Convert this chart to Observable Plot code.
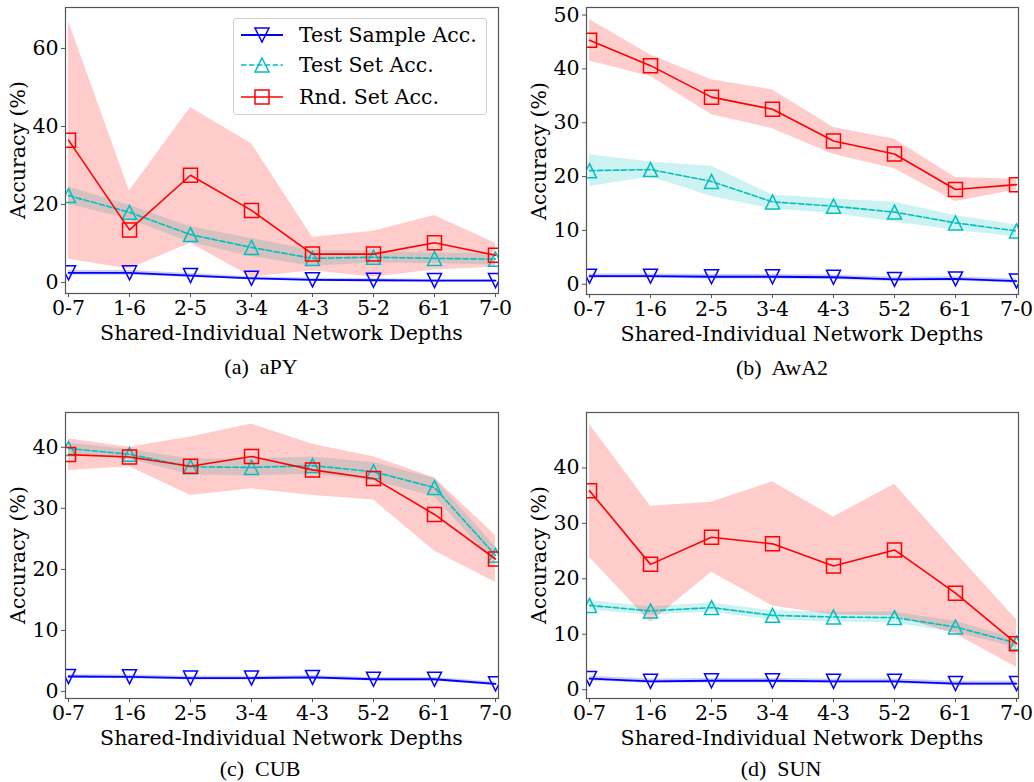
<!DOCTYPE html>
<html><head><meta charset="utf-8">
<script src="https://cdn.jsdelivr.net/npm/d3@7"></script>
<script src="https://cdn.jsdelivr.net/npm/@observablehq/plot@0.6"></script>
<style>
body{margin:0;background:#fff;}
#fig{position:relative;width:1034px;height:782px;overflow:hidden;font-family:"DejaVu Serif",serif;color:#000;}
.panel{position:absolute;}
.lbl{position:absolute;font-size:20.5px;white-space:pre;transform:translate(-50%,-50%);line-height:1;}
.ylbl{transform:translate(-50%,-50%) rotate(-90deg);}
.cap{position:absolute;font-family:"Liberation Serif",serif;font-size:22px;white-space:pre;transform:translate(-50%,-50%);line-height:1;}
</style></head><body><div id="fig"></div>
<script>
// ---- data ----
const depths = ["0-7","1-6","2-5","3-4","4-3","5-2","6-1","7-0"];
const seriesNames = ["Test Sample Acc.","Test Set Acc.","Rnd. Set Acc."];

// aPY
const apySample    = [2.5, 2.5, 1.8, 1.1, 0.7, 0.6, 0.5, 0.5];
const apySampleStd = [0.6, 0.6, 0.5, 0.4, 0.4, 0.4, 0.3, 0.3];
const apySet       = [22.3, 18.0, 12.3, 9.0, 6.2, 6.5, 6.2, 6.0];
const apySetStd    = [2.2, 1.8, 2.0, 2.3, 2.0, 1.5, 1.3, 1.5];
const apyRnd       = [36.5, 13.5, 27.5, 18.5, 7.3, 7.3, 10.2, 7.0];
const apyRndStd    = [30.5, 10.0, 17.4, 17.1, 4.3, 5.85, 7.0, 3.1];

// AwA2
const awaSample    = [1.5, 1.5, 1.4, 1.4, 1.3, 0.9, 1.0, 0.6];
const awaSampleStd = [0.4, 0.4, 0.4, 0.4, 0.4, 0.4, 0.4, 0.4];
const awaSet       = [21.1, 21.3, 19.1, 15.3, 14.5, 13.4, 11.4, 9.9];
const awaSetStd    = [2.95, 1.4, 2.8, 1.3, 1.35, 1.85, 1.35, 1.1];
const awaRnd       = [45.3, 40.6, 34.75, 32.5, 26.6, 24.2, 17.6, 18.5];
const awaRndStd    = [3.85, 2.0, 3.25, 3.6, 2.5, 2.75, 2.25, 1.0];

// CUB
const cubSample    = [2.45, 2.4, 2.2, 2.2, 2.3, 2.0, 2.0, 1.25];
const cubSampleStd = [0.3, 0.3, 0.3, 0.3, 0.3, 0.3, 0.3, 0.3];
const cubSet       = [39.8, 38.85, 36.8, 36.7, 37.0, 36.0, 33.4, 22.3];
const cubSetStd    = [0.9, 0.8, 1.3, 1.4, 1.4, 1.5, 1.5, 1.4];
const cubRnd       = [38.8, 38.4, 36.9, 38.5, 36.3, 34.9, 29.0, 21.7];
const cubRndStd    = [2.6, 1.6, 4.8, 5.3, 4.2, 3.55, 6.0, 3.85];

// SUN
const sunSample    = [2.0, 1.5, 1.6, 1.6, 1.5, 1.5, 1.1, 1.1];
const sunSampleStd = [0.4, 0.4, 0.4, 0.4, 0.4, 0.4, 0.4, 0.4];
const sunSet       = [15.2, 14.2, 14.8, 13.4, 13.1, 13.0, 11.3, 8.4];
const sunSetStd    = [0.9, 0.75, 0.85, 0.85, 0.9, 1.0, 1.05, 0.75];
const sunRnd       = [35.9, 22.6, 27.5, 26.3, 22.3, 25.2, 17.4, 8.3];
const sunRndStd    = [12.0, 10.5, 6.3, 11.2, 8.85, 11.85, 7.35, 4.3];

const yTicksA = [0, 20, 40, 60];
const yTicksB = [0, 10, 20, 30, 40, 50];
const yTicksC = [0, 10, 20, 30, 40];
const yTicksD = [0, 10, 20, 30, 40];

const xLabel = "Shared-Individual Network Depths";
const yLabel = "Accuracy (%)";

// ---- styling / layout ----
const COLORS = ["#0000ff", "#00bfbf", "#ff0000"];
const sym = (kind) => ({draw(ctx, size) {
  const r = Math.sqrt(size / Math.PI);
  if (kind === "sq") { ctx.rect(-r, -r, 2*r, 2*r); }
  else if (kind === "up") { ctx.moveTo(0, -r); ctx.lineTo(r, r); ctx.lineTo(-r, r); ctx.closePath(); }
  else { ctx.moveTo(0, r); ctx.lineTo(r, -r); ctx.lineTo(-r, -r); ctx.closePath(); }
}});
const SYMS = [sym("down"), sym("up"), sym("sq")];
const DASH = [null, "5.5,2.4", null];
const LW = [1.8, 1.6, 1.6];
const FS = 20.5;

const panels = [
  {cap:"(a)  aPY",  col:0, row:0, fL:65,  fR:498,  fT:7,   fB:293, y:[-2.8, 70.5], ticks:yTicksA, capX:261, legend:true,
   s:[[apySample,apySampleStd],[apySet,apySetStd],[apyRnd,apyRndStd]]},
  {cap:"(b)  AwA2", col:1, row:0, fL:586, fR:1018, fT:7,   fB:294, y:[-1.9, 51.4], ticks:yTicksB, capX:782,
   s:[[awaSample,awaSampleStd],[awaSet,awaSetStd],[awaRnd,awaRndStd]]},
  {cap:"(c)  CUB",  col:0, row:1, fL:65,  fR:498,  fT:412, fB:698, y:[-1.15, 45.7], ticks:yTicksC, capX:260,
   s:[[cubSample,cubSampleStd],[cubSet,cubSetStd],[cubRnd,cubRndStd]]},
  {cap:"(d)  SUN",  col:1, row:1, fL:586, fR:1018, fT:412, fB:698, y:[-1.6, 50], ticks:yTicksD, capX:781,
   s:[[sunSample,sunSampleStd],[sunSet,sunSetStd],[sunRnd,sunRndStd]]}
];

const fig = document.getElementById("fig");
const W = 517, H = 350;

function addText(cls, txt, x, y) {
  const d = document.createElement("div");
  d.className = cls; d.textContent = txt;
  d.style.left = x + "px"; d.style.top = y + "px";
  fig.appendChild(d);
}

for (const p of panels) {
  const left = p.col * W, top = p.row * 400;
  const tables = p.s.map(([m, sd]) => depths.map((d, i) => ({depth: d, mean: m[i], lo: m[i] - sd[i], hi: m[i] + sd[i]})));
  const marks = [];
  tables.forEach((t, k) => marks.push(Plot.areaY(t, {x: "depth", y1: "lo", y2: "hi", fill: COLORS[k], fillOpacity: 0.2, clip: true})));
  tables.forEach((t, k) => {
    marks.push(Plot.lineY(t, {x: "depth", y: "mean", stroke: COLORS[k], strokeWidth: LW[k], strokeDasharray: DASH[k] || undefined, clip: true}));
    marks.push(Plot.dot(t, {x: "depth", y: "mean", symbol: () => SYMS[k], r: 7, stroke: COLORS[k], strokeWidth: 1.5, fill: "none", clip: true}));
  });
  marks.push(Plot.frame({stroke: "#555", strokeWidth: 1.2}));
  marks.push(Plot.axisY({ticks: p.ticks, tickSize: 4, tickPadding: 3, label: null, fontSize: FS, stroke: "#555"}));
  marks.push(Plot.axisX({tickSize: 4, tickPadding: 3, label: null, fontSize: FS, stroke: "#555"}));

  const chart = Plot.plot({
    width: W, height: H,
    marginLeft: p.fL - left, marginRight: left + W - p.fR,
    marginTop: p.fT - top, marginBottom: top + H - p.fB,
    style: {fontFamily: "DejaVu Serif", fontSize: FS + "px", background: "transparent", color: "#000"},
    x: {type: "point", domain: depths, padding: 0},
    y: {domain: p.y},
    symbol: {type: "identity"},
    marks
  });
  const div = document.createElement("div");
  div.className = "panel";
  div.style.left = left + "px"; div.style.top = top + "px"; div.style.width = W + "px"; div.style.height = H + "px";
  div.appendChild(chart);
  fig.appendChild(div);

  addText("lbl", xLabel, (p.fL + p.fR) / 2, p.fB + 40);
  addText("lbl ylbl", yLabel, p.fL - 47, (p.fT + p.fB) / 2);
  addText("cap", p.cap, p.capX, Math.min(p.fB + 74, 769));

  if (p.legend) {
    const lg = document.createElement("div");
    lg.style.cssText = "position:absolute;left:233px;top:18px;width:254px;height:97px;box-sizing:border-box;border:1px solid #d0d0d0;border-radius:3px;background:rgba(255,255,255,0.8);";
    const svg = d3.create("svg").attr("width", 254).attr("height", 97).style("position", "absolute").style("left", "-1px").style("top", "-1px").style("overflow", "visible");
    const rows = [17, 47, 79];
    seriesNames.forEach((nm, k) => {
      const g = svg.append("g").attr("transform", `translate(0,${rows[k]})`);
      g.append("line").attr("x1", 8).attr("x2", 50).attr("stroke", COLORS[k]).attr("stroke-width", LW[k]).attr("stroke-dasharray", DASH[k]);
      g.append("path").attr("transform", "translate(29,0)").attr("d", d3.symbol(SYMS[k], 49 * Math.PI)()).attr("stroke", COLORS[k]).attr("stroke-width", 1.5).attr("fill", "none");
      g.append("text").attr("x", 66).attr("y", 0).attr("dy", "0.35em").attr("font-family", "DejaVu Serif").attr("font-size", FS).text(nm);
    });
    lg.appendChild(svg.node());
    fig.appendChild(lg);
  }
}
</script></body></html>
